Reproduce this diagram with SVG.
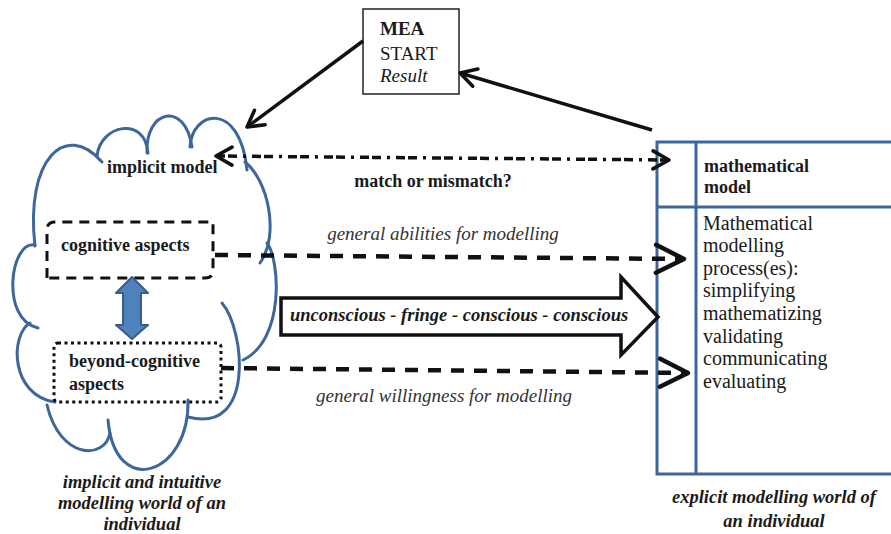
<svg xmlns="http://www.w3.org/2000/svg" width="891" height="534" viewBox="0 0 891 534">
<style>
.cloud{fill:none;stroke:#3d679c;stroke-width:3;stroke-linecap:round}
.frame{fill:none;stroke:#3d679c;stroke-width:3}
.t{font-family:"Liberation Serif","Times New Roman",serif;fill:#1a1a1a}
.b{font-weight:bold;font-size:18px}
.r{font-size:20px}
.i{font-style:italic;font-size:19px;fill:#333}
.bi{font-weight:bold;font-style:italic;font-size:18.5px}
.solid{fill:none;stroke:#111;stroke-width:3.5}
.dash{fill:none;stroke:#111;stroke-width:4.5;stroke-dasharray:13 10}
.dashdot{fill:none;stroke:#111;stroke-width:3.5;stroke-dasharray:9 3 9 6 3 6}
</style>
<defs>
<marker id="hs" markerUnits="userSpaceOnUse" markerWidth="22" markerHeight="22" viewBox="0 0 22 22" refX="19" refY="11" orient="auto-start-reverse">
<path d="M3,2 L19,11 L3,20" fill="none" stroke="#111" stroke-width="3.5" stroke-linejoin="round" stroke-linecap="round"/>
</marker>
<marker id="hl" markerUnits="userSpaceOnUse" markerWidth="36" markerHeight="36" viewBox="0 0 36 36" refX="32" refY="18" orient="auto">
<path d="M4,4 L32,18 L4,32" fill="none" stroke="#111" stroke-width="4.5" stroke-linejoin="round" stroke-linecap="round"/>
</marker>
</defs>
<rect width="891" height="534" fill="#fff"/>

<g id="cloud">
<path class="cloud" d="M35,246 C25,160 65,120 102,162"/>
<path class="cloud" d="M97,156 C100,125 145,115 148,153"/>
<path class="cloud" d="M147,153 C145,110 185,100 192,147"/>
<path class="cloud" d="M190,147 C192,110 240,100 247,170"/>
<path class="cloud" d="M245,162 C268,180 280,235 260,263"/>
<path class="cloud" d="M267,243 C280,260 285,340 243,360"/>
<path class="cloud" d="M222,303 C245,330 255,435 188,417"/>
<path class="cloud" d="M188,400 C190,475 115,500 108,420"/>
<path class="cloud" d="M110,433 C105,460 60,460 47,405"/>
<path class="cloud" d="M30,323 C10,335 10,395 55,402"/>
<path class="cloud" d="M35,245 C10,240 0,320 38,328"/>
<text class="t b" x="107" y="173">implicit model</text>
</g>

<g id="cognitive">
<path d="M47,278 V230 Q47,222 55,222 H213 V270 Q213,278 205,278 Z" fill="none" stroke="#111" stroke-width="3" stroke-dasharray="10 7"/>
<text class="t b" x="61" y="251">cognitive aspects</text>
</g>

<g id="beyond">
<rect x="54" y="343" width="167" height="59" rx="4" fill="none" stroke="#111" stroke-width="3" stroke-dasharray="3 3.5"/>
<text class="t b" x="69" y="367">beyond-cognitive</text>
<text class="t b" x="69" y="390">aspects</text>
</g>

<g id="mea">
<rect x="363" y="9" width="96" height="85" fill="#fff" stroke="#222" stroke-width="1.5"/>
<text class="t" x="380" y="35" font-size="19" font-weight="bold">MEA</text>
<text class="t" x="380" y="60" font-size="19">START</text>
<text class="t" x="380" y="82" font-size="19" font-style="italic">Result</text>
</g>

<g id="math-model">
<rect class="frame" x="657" y="142" width="240" height="332"/>
<line class="frame" x1="696" y1="142" x2="696" y2="474"/>
<line class="frame" x1="657" y1="207" x2="897" y2="207"/>
<text class="t b" x="704" y="172">mathematical</text>
<text class="t b" x="704" y="193">model</text>
<text class="t r" x="703" y="230">Mathematical</text>
<text class="t r" x="703" y="252">modelling</text>
<text class="t r" x="703" y="275">process(es):</text>
<text class="t r" x="703" y="297">simplifying</text>
<text class="t r" x="703" y="320">mathematizing</text>
<text class="t r" x="703" y="343">validating</text>
<text class="t r" x="703" y="365">communicating</text>
<text class="t r" x="703" y="388">evaluating</text>
</g>

<g id="connectors">
<line class="solid" x1="363" y1="41" x2="247" y2="127" marker-end="url(#hs)"/>
<line class="solid" x1="652" y1="130" x2="460" y2="73" marker-end="url(#hs)"/>
<line class="dashdot" x1="216" y1="156" x2="669" y2="160" marker-start="url(#hs)" marker-end="url(#hs)"/>
<line class="dash" x1="215" y1="255" x2="684" y2="259" marker-end="url(#hl)"/>
<line class="dash" x1="221" y1="368" x2="688" y2="373" marker-end="url(#hl)"/>
<path d="M132,277 L148,293 L141,293 L141,325 L148,325 L132,339 L116,325 L123,325 L123,293 L116,293 Z" fill="#4f81bd" stroke="#385d8a" stroke-width="2" stroke-linejoin="round"/>
<path d="M281,298 L621,298 L621,277 L658,317 L621,355 L621,335 L281,335 Z" fill="#fff" stroke="#111" stroke-width="3.5"/>
</g>

<g id="labels">
<text class="t b" x="433" y="187" text-anchor="middle">match or mismatch?</text>
<text class="t i" x="443" y="240" text-anchor="middle">general abilities for modelling</text>
<text class="t bi" x="290" y="321">unconscious - fringe - conscious - conscious</text>
<text class="t i" x="444" y="402" text-anchor="middle">general willingness for modelling</text>
<text class="t bi" x="142" y="488" text-anchor="middle">implicit and intuitive</text>
<text class="t bi" x="142" y="509" text-anchor="middle">modelling world of an</text>
<text class="t bi" x="142" y="530" text-anchor="middle">individual</text>
<text class="t bi" x="774" y="503" text-anchor="middle">explicit modelling world of</text>
<text class="t bi" x="774" y="527" text-anchor="middle">an individual</text>
</g>
</svg>
